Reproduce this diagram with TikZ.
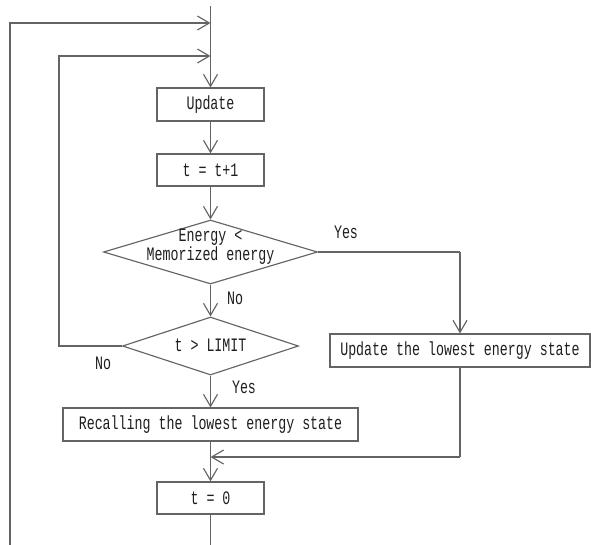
\documentclass[tikz,border=0pt]{standalone}
\usepackage{fontspec}
\usetikzlibrary{arrows.meta,shapes.geometric}
\newfontfamily\gfont[FakeStretch=0.7]{Liberation Mono}
\definecolor{linegray}{RGB}{100,100,100}
\definecolor{textgray}{RGB}{30,30,30}
\tikzset{
  x=1pt, y=1pt,
  flow/.style={draw=linegray, line width=1.15pt},
  link/.style={flow, -{Straight Barb[length=12pt,width=14pt]}},
  procbox/.style={rectangle, flow, inner sep=0pt, minimum height=33pt, text=textgray, font=\gfont\fontsize{19}{16}\selectfont},
  decision/.style={diamond, flow, inner sep=0pt},
  lbl/.style={text=textgray, inner sep=0pt, font=\gfont\fontsize{19}{16}\selectfont, align=center}
}
\begin{document}
\begin{tikzpicture}
\path[use as bounding box, clip] (0,0) rectangle (591,-544);

% main column
\coordinate (start) at (210.5,-6);
\coordinate (entA) at (210.5,-23);
\coordinate (entB) at (210.5,-56);
\node[procbox, minimum width=107pt] (update) at (210.5,-104.5) {Update};
\node[procbox, minimum width=107pt, minimum height=32pt] (inc) at (210.5,-170) {t = t+1};
\node[decision, minimum width=214pt, minimum height=64pt] (cmp) at (210.5,-252) {};
\node[lbl] (cmptxt) at (210.5,-247) {Energy <\\Memorized energy};
\node[decision, minimum width=176pt, minimum height=58pt] (lim) at (210.5,-346) {};
\node[lbl] (limtxt) at (210.5,-345) {t > LIMIT};
\node[procbox, minimum width=295pt] (recall) at (210.5,-424.5) {Recalling the lowest energy state};
\coordinate (merge) at (210.5,-457);
\node[procbox, minimum width=107pt, minimum height=32pt] (reset) at (210.5,-498) {t = 0};

% side branch
\node[procbox, minimum width=260pt] (store) at (460,-350.5) {Update the lowest energy state};
\coordinate (yesturn) at (460,-252);
\coordinate (backturn) at (460,-457);

% labels
\node[lbl] (yes1) at (346,-232) {Yes};
\node[lbl] (no1) at (235,-298) {No};
\node[lbl] (no2) at (103,-363) {No};
\node[lbl] (yes2) at (244,-387) {Yes};

% connectors along the main column
\draw[link] (start) -- (update);
\draw[link] (update) -- (inc);
\draw[link] (inc) -- (cmp);
\draw[link] (cmp) -- (lim);
\draw[link] (lim) -- (recall);
\draw[flow] (recall) -- (merge);
\draw[link] (merge) -- (reset);

% yes branch of the energy comparison
\draw[flow] (cmp.east) -- (yesturn);
\draw[link] (yesturn) -- (store);
\draw[flow] (store) -- (backturn);
\draw[link] (backturn) -- (merge);

% inner loop: t not above LIMIT
\draw[link] (lim.west) -- (59,-346) |- (entB);

% outer loop back to the top
\draw[link] (reset) -- (210.5,-570) -| (10,-300) |- (entA);
\end{tikzpicture}
\end{document}
